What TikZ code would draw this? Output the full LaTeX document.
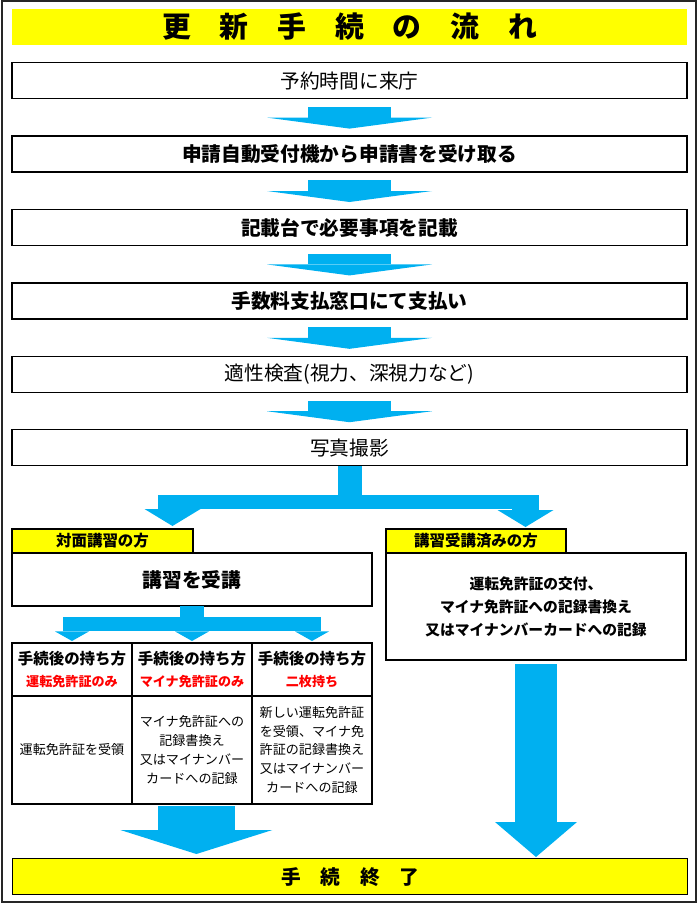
\documentclass[tikz,border=0pt]{standalone}
\usepackage{fontspec}
\setmainfont{Noto Sans CJK JP}
\usepackage{xcolor}
\usepackage{tikz}
\usetikzlibrary{arrows.meta, positioning, calc}
\definecolor{flowblue}{HTML}{00B0F0}
\definecolor{signyellow}{HTML}{FFFF00}
\newcommand{\holdtag}[1]{{\color{red}\fontsize{9.3}{15}\selectfont #1}}

\begin{document}
\begin{tikzpicture}[node distance=0.9cm,
    stepbox/.style={rectangle, draw=black, line width=1pt, fill=white, minimum width=16.875cm, minimum height=0.9cm, inner sep=0pt, align=center, font=\fontsize{14}{17}\selectfont},
    stepbold/.style={stepbox, font=\fontsize{14}{17}\selectfont\bfseries},
    titlebar/.style={rectangle, fill=signyellow, minimum width=16.875cm, minimum height=0.9cm, font=\fontsize{20.5}{24}\selectfont\bfseries},
    endbar/.style={rectangle, draw=black, line width=1pt, fill=signyellow, minimum width=16.875cm, minimum height=0.9cm, font=\fontsize{14}{17}\selectfont\bfseries},
    tagbox/.style={rectangle, draw=black, line width=1pt, fill=signyellow, minimum height=0.6cm, inner sep=0pt, outer sep=0pt, font=\fontsize{11}{13}\selectfont\bfseries},
    panel/.style={rectangle, draw=black, line width=1pt, fill=white, inner sep=1pt, outer sep=0pt, align=center},
    head/.style={panel, minimum width=3cm, minimum height=1.325cm, font=\fontsize{11}{15}\selectfont\bfseries},
    cell/.style={panel, minimum width=3cm, minimum height=2.7cm, font=\fontsize{9.3}{13.3}\selectfont},
    fat/.style={draw=flowblue, line width=2.075cm, -{Triangle[width=4.125cm, length=0.275cm, line width=0pt]}, shorten <=0.19cm, shorten >=0.17cm},
    trunk/.style={draw=flowblue},
    split/.style={draw=flowblue, line width=0.725cm, -{Triangle[width=1.4cm, length=0.425cm, line width=0pt]}},
    twig/.style={draw=flowblue, line width=0.45cm, -{Triangle[width=0.85cm, length=0.24cm, line width=0pt]}, shorten >=0.05cm}
]
    \useasboundingbox (0,0) rectangle (17.5,-22.6);
    \draw[black!85, line width=1pt] (0.05,-0.03) rectangle (17.4,-22.55);

    % Nodes
    \node (title) [titlebar] at (8.7375,-0.675) {更\hspace{1em}新\hspace{1em}手\hspace{1em}続\hspace{1em}の\hspace{1em}流\hspace{1em}れ};
    \node (b1) [stepbox, anchor=north] at (8.7375,-1.55) {予約時間に来庁};
    \node (b2) [stepbold, below=of b1] {申請自動受付機から申請書を受け取る};
    \node (b3) [stepbold, below=of b2] {記載台で必要事項を記載};
    \node (b4) [stepbold, below=of b3] {手数料支払窓口にて支払い};
    \node (b5) [stepbox, below=of b4] {適性検査(視力、深視力など)};
    \node (b6) [stepbox, below=of b5] {写真撮影};

    \node (face) [tagbox, minimum width=4.525cm, anchor=north west] at (0.3,-13.225) {対面講習の方};
    \node (lec) [panel, minimum width=9cm, minimum height=1.325cm, anchor=north west, font=\fontsize{14}{17}\selectfont\bfseries] at (face.south west) {講習を受講};
    \node (done) [tagbox, minimum width=4.5cm, anchor=north west] at (9.65,-13.225) {講習受講済みの方};
    \node (issue) [panel, minimum width=7.5cm, minimum height=2.675cm, anchor=north west, font=\fontsize{10.5}{16.4}\selectfont\bfseries] at (done.south west) {運転免許証の交付、\\マイナ免許証への記録書換え\\又はマイナンバーカードへの記録};

    \node (h1) [head, anchor=north west] at (0.3,-16.075) {手続後の持ち方\\\holdtag{運転免許証のみ}};
    \node (h2) [head, right=0pt of h1] {手続後の持ち方\\\holdtag{マイナ免許証のみ}};
    \node (h3) [head, right=0pt of h2] {手続後の持ち方\\\holdtag{二枚持ち}};
    \node (c1) [cell, below=0pt of h1] {運転免許証を受領};
    \node (c2) [cell, below=0pt of h2] {マイナ免許証への\\記録書換え\\又はマイナンバー\\カードへの記録};
    \node (c3) [cell, below=0pt of h3] {新しい運転免許証\\を受領、マイナ免\\許証の記録書換え\\又はマイナンバー\\カードへの記録};

    \node (fin) [endbar, anchor=north west] at (0.3,-21.45) {手\hspace{1em}続\hspace{1em}終\hspace{1em}了};

    % Arrows
    \foreach \a/\b in {b1/b2, b2/b3, b3/b4, b4/b5, b5/b6}
        \draw [fat] (\a.south) -- (\b.north);

    \coordinate (fork) at ($(b6.south)+(0,-0.9)$);
    \coordinate (tipL) at (4.3125,-13.15);
    \coordinate (tipR) at (13.1375,-13.175);
    \draw [trunk, line width=0.6cm] (b6.south) -- (fork);
    \draw [trunk, line width=0.35cm] ([xshift=-0.3625cm]tipL |- fork) -- ([xshift=0.3375cm]tipR |- fork);
    \draw [split] (tipL |- fork) -- (tipL);
    \draw [split, line width=0.675cm] (tipR |- fork) -- (tipR);

    \coordinate (fork2) at ($(lec.south)+(0,-0.45)$);
    \draw [trunk, line width=0.6cm] (lec.south) -- (fork2);
    \draw [trunk, line width=0.35cm] ([xshift=-0.225cm]h1.north |- fork2) -- ([xshift=0.225cm]h3.north |- fork2);
    \foreach \h in {h1, h2, h3}
        \draw [twig] (\h.north |- fork2) -- (\h.north);

    \draw [fat, line width=1.925cm, -{Triangle[width=3.8cm, length=0.6cm, line width=0pt]}, shorten <=0.05cm, shorten >=0.1cm] ([xshift=0.11cm]c2.south) -- ([xshift=0.11cm]c2.south |- fin.north);
    \draw [fat, line width=1.05cm, -{Triangle[width=2.05cm, length=0.875cm, line width=0pt]}, shorten <=0.1cm, shorten >=0.025cm] (issue.south) -- (issue.south |- fin.north);
\end{tikzpicture}
\end{document}
